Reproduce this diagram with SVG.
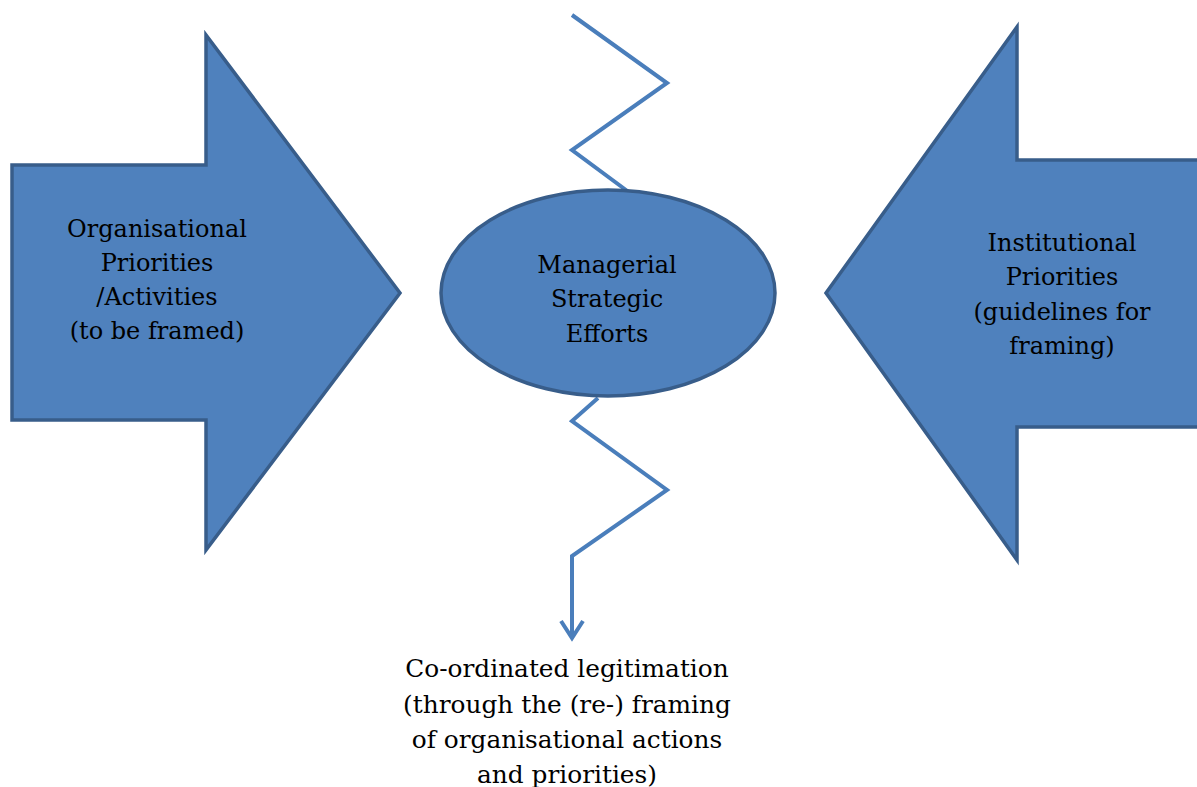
<svg xmlns="http://www.w3.org/2000/svg" width="1197" height="787" viewBox="0 0 1197 787">
  <style>
    .block { fill: #4F81BD; stroke: #385D8A; stroke-width: 3.5; stroke-linejoin: miter; }
    .zig { fill: none; stroke: #4A7EBB; stroke-width: 4; stroke-linejoin: miter; }
    .lbl { font-family: "DejaVu Serif", "Liberation Serif", serif; font-size: 24px; fill: #000; text-anchor: middle; }
    .big { font-size: 24.8px; }
  </style>
  <rect width="1197" height="787" fill="#fff"/>

  <!-- zigzag connector through the centre -->
  <g id="connectors">
    <polyline class="zig" points="572,15 667,83 572,150 630,193"/>
    <polyline class="zig" points="598,398 572,421 667,490 572,556 572,638"/>
    <polyline class="zig" points="561,621 572,638 583,621" stroke-linejoin="round"/>
  </g>

  <g id="organisational">
    <polygon class="block" points="12,165 206,165 206,35 400,293 206,550 206,420 12,420"/>
    <text class="lbl" x="157" y="237">Organisational</text>
    <text class="lbl" x="157" y="271">Priorities</text>
    <text class="lbl" x="157" y="305">/Activities</text>
    <text class="lbl" x="157" y="339">(to be framed)</text>
  </g>

  <g id="institutional">
    <polygon class="block" points="1200,160 1017,160 1017,27 826,293 1017,560 1017,427 1200,427"/>
    <text class="lbl" x="1062" y="251">Institutional</text>
    <text class="lbl" x="1062" y="285">Priorities</text>
    <text class="lbl" x="1062" y="320">(guidelines for</text>
    <text class="lbl" x="1062" y="354">framing)</text>
  </g>

  <g id="managerial">
    <ellipse class="block" cx="608" cy="293" rx="167" ry="103"/>
    <text class="lbl" x="607" y="273">Managerial</text>
    <text class="lbl" x="607" y="307">Strategic</text>
    <text class="lbl" x="607" y="342">Efforts</text>
  </g>

  <g id="outcome">
    <text class="lbl big" x="567" y="677">Co-ordinated legitimation</text>
    <text class="lbl big" x="567" y="713">(through the (re-) framing</text>
    <text class="lbl big" x="567" y="748">of organisational actions</text>
    <text class="lbl big" x="567" y="783">and priorities)</text>
  </g>
</svg>
